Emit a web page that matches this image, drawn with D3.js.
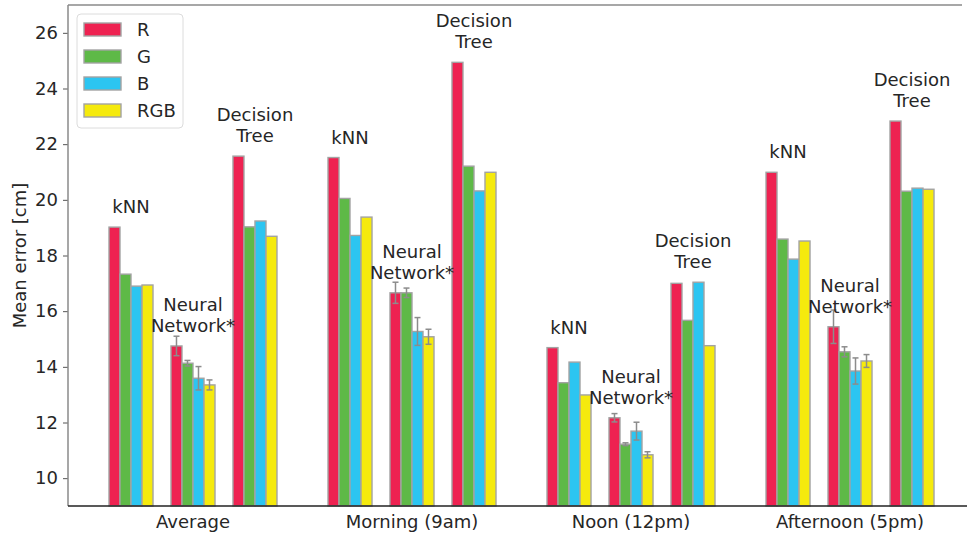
<!DOCTYPE html>
<html>
<head>
<meta charset="utf-8">
<script src="https://cdn.jsdelivr.net/npm/d3@7"></script>
<style>
  body { margin: 0; background: #fff; }
  svg { font-family: "DejaVu Sans", sans-serif; }
</style>
</head>
<body>
<svg width="967" height="533"></svg>
<script>
// Data
const groups = ["Average", "Morning (9am)", "Noon (12pm)", "Afternoon (5pm)"];
const models = ["kNN", "Neural Network*", "Decision Tree"];
const modelLines = [["kNN"], ["Neural", "Network*"], ["Decision", "Tree"]];
const channels = ["R", "G", "B", "RGB"];
const colors = ["#ee2251", "#5eb947", "#2cc5f1", "#f5ea0d"];

// values per group: [R, G, B, RGB]
const knnValues = [
    [19.02, 17.33, 16.90, 16.94],
    [21.52, 20.05, 18.72, 19.38],
    [14.69, 13.43, 14.17, 12.99],
    [20.99, 18.59, 17.87, 18.52]
];
const nnValues = [
    [14.75, 14.13, 13.59, 13.35],
    [16.66, 16.66, 15.27, 15.08],
    [12.17, 11.22, 11.69, 10.84],
    [15.44, 14.54, 13.85, 14.21]
];
const nnErrors = [
    [0.35, 0.10, 0.42, 0.18],
    [0.38, 0.17, 0.50, 0.27],
    [0.15, 0.05, 0.32, 0.11],
    [0.60, 0.18, 0.47, 0.23]
];
const dtValues = [
    [21.57, 19.03, 19.24, 18.69],
    [24.94, 21.21, 20.32, 20.99],
    [17.00, 15.67, 17.04, 14.76],
    [22.83, 20.31, 20.42, 20.38]
];
const yTicks = [10, 12, 14, 16, 18, 20, 22, 24, 26];

const svg = d3.select("svg");
const plotLeft = 68, plotRight = 966, plotTop = 5, plotBottom = 506;
const fontSize = 18;

// Scales
const y = d3.scaleLinear().domain([9, 27]).range([plotBottom, plotTop]);
const x0 = d3.scaleBand().domain(groups).range([83.5, 959.5])
    .paddingInner(0.2329).paddingOuter(0.1164);
const x1 = d3.scaleBand().domain(models).range([0, x0.bandwidth()])
    .paddingInner(0.29).paddingOuter(0);
const x2 = d3.scaleBand().domain(channels).range([0, x1.bandwidth()]);

// Build table
const table = [];
groups.forEach((g, gi) => {
    [knnValues, nnValues, dtValues].forEach((vals, mi) => {
        channels.forEach((c, ci) => {
            table.push({
                group: g, model: models[mi], channel: c, ci: ci,
                value: vals[gi][ci],
                err: mi === 1 ? nnErrors[gi][ci] : 0
            });
        });
    });
});

// Bars
svg.append("g").selectAll("rect")
    .data(table)
    .enter()
    .append("rect")
    .attr("x", d => x0(d.group) + x1(d.model) + x2(d.channel))
    .attr("y", d => y(d.value))
    .attr("width", x2.bandwidth())
    .attr("height", d => plotBottom - y(d.value))
    .attr("fill", d => colors[d.ci])
    .attr("stroke", "#a3a3a3")
    .attr("stroke-width", 1.4);

// Error bars
const errG = svg.append("g").attr("stroke", "#8c8c8c").attr("stroke-width", 1.5);
table.filter(d => d.err > 0).forEach(d => {
    const cx = x0(d.group) + x1(d.model) + x2(d.channel) + x2.bandwidth() / 2;
    const y1 = y(d.value + d.err), y2 = y(d.value - d.err);
    errG.append("line").attr("x1", cx).attr("x2", cx).attr("y1", y1).attr("y2", y2);
    errG.append("line").attr("x1", cx - 3).attr("x2", cx + 3).attr("y1", y1).attr("y2", y1);
    errG.append("line").attr("x1", cx - 3).attr("x2", cx + 3).attr("y1", y2).attr("y2", y2);
});

// Model annotations above each subgroup
groups.forEach((g, gi) => {
    [knnValues, nnValues, dtValues].forEach((vals, mi) => {
        const maxV = d3.max(vals[gi]);
        const cx = x0(g) + x1(models[mi]) + x1.bandwidth() / 2;
        const lines = modelLines[mi];
        const t = svg.append("text")
            .attr("text-anchor", "middle")
            .attr("font-size", fontSize)
            .attr("fill", "#262626");
        lines.forEach((ln, li) => {
            t.append("tspan")
                .attr("x", cx)
                .attr("y", y(maxV) - 14 - (lines.length - 1 - li) * 21)
                .text(ln);
        });
    });
});

// Axes
const yAxis = svg.append("g")
    .attr("transform", `translate(${plotLeft},0)`)
    .call(d3.axisLeft(y).tickValues(yTicks).tickSize(5).tickPadding(5));
yAxis.select(".domain").remove();
yAxis.selectAll(".tick line").attr("stroke", "#555");
yAxis.selectAll("text").attr("font-size", fontSize).attr("fill", "#262626")
    .attr("font-family", "DejaVu Sans");

const xAxis = svg.append("g")
    .attr("transform", `translate(0,${plotBottom})`)
    .call(d3.axisBottom(x0).tickSize(0).tickPadding(9));
xAxis.select(".domain").remove();
xAxis.selectAll("text").attr("font-size", fontSize).attr("fill", "#262626")
    .attr("font-family", "DejaVu Sans");

// Spines
svg.append("line").attr("x1", plotLeft).attr("x2", plotLeft).attr("y1", plotTop).attr("y2", plotBottom)
    .attr("stroke", "#8a8a8a").attr("stroke-width", 1.5);
svg.append("line").attr("x1", plotLeft).attr("x2", 962).attr("y1", plotTop).attr("y2", plotTop)
    .attr("stroke", "#8a8a8a").attr("stroke-width", 1.5);
svg.append("line").attr("x1", plotLeft).attr("x2", plotRight + 1).attr("y1", plotBottom).attr("y2", plotBottom)
    .attr("stroke", "#222").attr("stroke-width", 1.5);

// Y label
svg.append("text")
    .attr("transform", `translate(26,${(plotTop + plotBottom) / 2}) rotate(-90)`)
    .attr("text-anchor", "middle")
    .attr("font-size", fontSize)
    .attr("fill", "#262626")
    .text("Mean error [cm]");

// Legend
const legend = svg.append("g");
legend.append("rect")
    .attr("x", 77).attr("y", 14).attr("width", 106).attr("height", 114)
    .attr("rx", 4).attr("fill", "#fff").attr("fill-opacity", 0.85)
    .attr("stroke", "#dcdcdc");
channels.forEach((c, i) => {
    legend.append("rect")
        .attr("x", 84).attr("y", 23 + i * 27).attr("width", 37).attr("height", 13)
        .attr("fill", colors[i]).attr("stroke", "#a3a3a3").attr("stroke-width", 1.4);
    legend.append("text")
        .attr("x", 137).attr("y", 36 + i * 27)
        .attr("font-size", fontSize).attr("fill", "#262626")
        .text(c);
});
</script>
</body>
</html>
